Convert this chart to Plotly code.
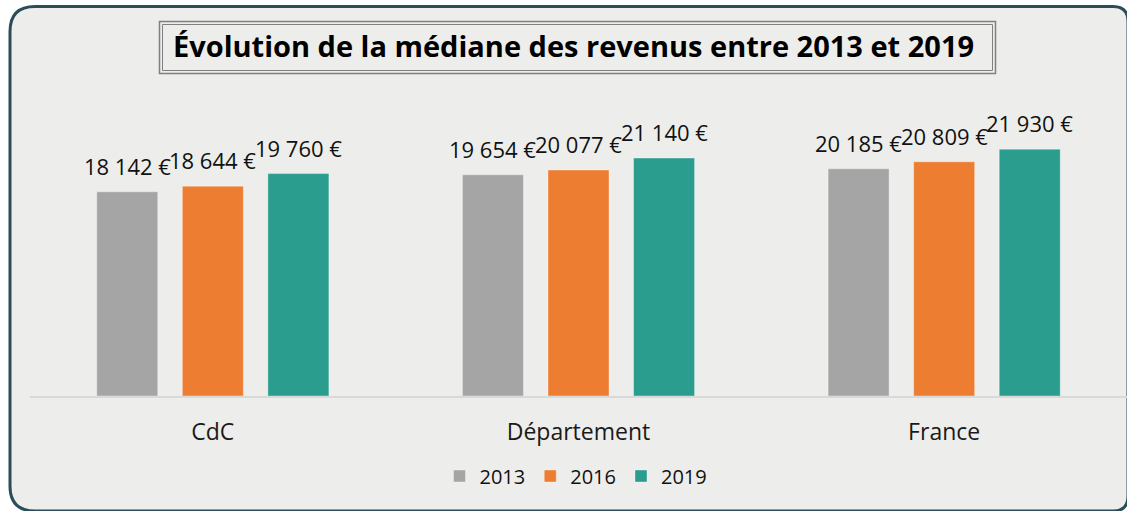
import plotly.graph_objects as go

categories = ["CdC", "Département", "France"]
years = ["2013", "2016", "2019"]
values_2013 = [18142, 19654, 20185]
values_2016 = [18644, 20077, 20809]
values_2019 = [19760, 21140, 21930]
colors = ["#A5A5A5", "#ED7D31", "#2A9D8F"]
title_text = "Évolution de la médiane des revenus entre 2013 et 2019"

W, H = 1127, 511
ML, MR, MT, MB = 30, 0, 100, 115
PW, PH = W - ML - MR, H - MT - MB
YMAX = 26300
BARGAP, GROUPGAP = 0.298, 0.287
SLOT = PW / len(categories) * (1 - BARGAP) / len(years)


def fmt(v):
    return f"{v:,}".replace(",", " ") + " €"


def px(x):
    return (x - ML) / PW


def py(y):
    return (H - MB - y) / PH


fig = go.Figure()
annotations = []
series = [values_2013, values_2016, values_2019]
for i, (yr, vals, col) in enumerate(zip(years, series, colors)):
    fig.add_trace(go.Bar(
        name=yr, x=categories, y=vals,
        marker=dict(color=col, line=dict(color="rgba(255,255,255,0.35)", width=1)),
    ))
    for cat, v in zip(categories, vals):
        annotations.append(dict(
            x=cat, y=v, xref="x", yref="y", text=fmt(v), showarrow=False,
            xanchor="center", yanchor="bottom", xshift=(i - 1) * SLOT, yshift=9,
            font=dict(family="Open Sans", size=22, color="#111111"),
        ))

# rounded outer frame
L, T, R, B = 10, 6.5, 1128, 511
rl, rr = 25, 15
path = (f"M {px(L)},{py(T+rl)} Q {px(L)},{py(T)} {px(L+rl)},{py(T)} "
        f"L {px(R-rr)},{py(T)} Q {px(R)},{py(T)} {px(R)},{py(T+rr)} "
        f"L {px(R)},{py(B-rr)} Q {px(R)},{py(B)} {px(R-rr)},{py(B)} "
        f"L {px(L+rl)},{py(B)} Q {px(L)},{py(B)} {px(L)},{py(B-rl)} Z")
shapes = [
    dict(type="path", xref="paper", yref="paper", path=path, fillcolor="#EDEEEB",
         line=dict(color="#2B4D5A", width=3), layer="below"),
    dict(type="rect", xref="paper", yref="paper", x0=px(159.5), x1=px(995.5), y0=py(21.5), y1=py(73.5),
         line=dict(color="#808080", width=1.5), layer="above"),
    dict(type="rect", xref="paper", yref="paper", x0=px(162.5), x1=px(992.5), y0=py(24.5), y1=py(70.5),
         line=dict(color="#808080", width=1), layer="above"),
]

annotations.append(dict(text=title_text, xref="paper", yref="paper", x=px(573.5), y=py(46),
                        xanchor="center", yanchor="middle", showarrow=False,
                        font=dict(family="Open Sans", size=29, color="black", weight="bold")))

fig.update_layout(
    width=W, height=H,
    margin=dict(l=ML, r=MR, t=MT, b=MB, autoexpand=False),
    paper_bgcolor="white", plot_bgcolor="rgba(0,0,0,0)",
    barmode="group", bargap=BARGAP, bargroupgap=GROUPGAP,
    shapes=shapes,
    annotations=annotations,
    xaxis=dict(showline=True, linecolor="#D9D9D9", linewidth=1.5, ticks="", showgrid=False,
               tickfont=dict(family="Open Sans", size=23, color="#1A1A1A"), ticklabelstandoff=15),
    yaxis=dict(range=[0, YMAX], visible=False, showgrid=False),
    showlegend=True,
    legend=dict(orientation="h", x=px(576), xanchor="center", y=py(476), yanchor="middle",
                font=dict(family="Open Sans", size=20, color="#111111"), bgcolor="rgba(0,0,0,0)",
                traceorder="normal"),
    font=dict(family="Open Sans"),
)

fig.write_html("out.html", config={"displayModeBar": False},
               post_script="document.body.style.margin='0';")
